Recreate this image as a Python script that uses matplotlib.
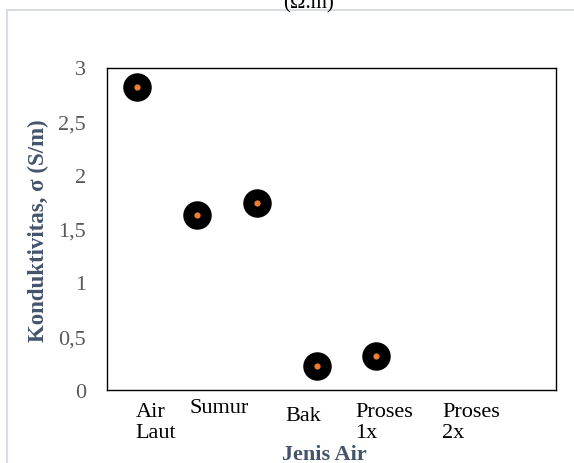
import matplotlib.pyplot as plt
from matplotlib.patches import Rectangle
from matplotlib.transforms import blended_transform_factory

# data
jenis_air = ["Air\nLaut", "Sumur", "Bak", "Proses\n1x", "Proses\n2x"]
konduktivitas = [2.82, 1.63, 1.74, 0.22, 0.32]
yticks = [0, 0.5, 1, 1.5, 2, 2.5, 3]
ytick_labels = ["0", "0,5", "1", "1,5", "2", "2,5", "3"]

# where the category texts sit under the axis (data x, axes y)
label_x = [0.98, 1.87, 3.48, 4.65, 6.10]
label_y = [-0.037, -0.025, -0.050, -0.037, -0.037]

plt.rcParams['font.family'] = ['Liberation Serif', 'DejaVu Serif']
slate = '#44546A'

fig = plt.figure(figsize=(5.74, 4.64), dpi=100)
ax = fig.add_axes([107/574, 1 - 391/464, 449/574, 322.5/464])

# outer chart border (light gray, runs off the right/bottom)
fig.patches.append(Rectangle((7/574, -0.1), 1.2, 1.1 - 11/464,
                             transform=fig.transFigure, fill=False,
                             edgecolor='#D9DDE3', linewidth=1.5))

x = range(1, len(konduktivitas) + 1)
ax.plot(x, konduktivitas, 'o', ms=19.5, color='black', zorder=3)
ax.plot(x, konduktivitas, 'o', ms=4.5, color='#ED7D31', mec='none', zorder=4)

ax.set_xlim(0.5, 8.0)
ax.set_ylim(0, 3)
ax.set_xticks([])
ax.set_yticks(yticks, labels=ytick_labels)
ax.tick_params(axis='y', length=0, pad=15, labelsize=16, labelcolor='#595959')
for s in ax.spines.values():
    s.set_linewidth(1.0)
    s.set_color('black')

trans = blended_transform_factory(ax.transData, ax.transAxes)
for lx, ly, name in zip(label_x, label_y, jenis_air):
    ax.text(lx, ly, name, transform=trans, ha='left', va='top',
            fontsize=16, linespacing=1.12, color='black')

ax.set_ylabel("Konduktivitas, σ (S/m)", fontsize=16.5, fontweight='bold', color=slate)
ax.yaxis.set_label_coords((49 - 107) / 449, (391 - 231) / 322.5)

fig.text(324/574, 4/464, "Jenis Air", ha='center', va='baseline',
         fontsize=16, fontweight='bold', color=slate)
fig.text(308/574, 1 - 8/464, "(Ω.m)", ha='center', va='baseline',
         fontsize=15, color='black')

fig.savefig("out.png", dpi=100)
